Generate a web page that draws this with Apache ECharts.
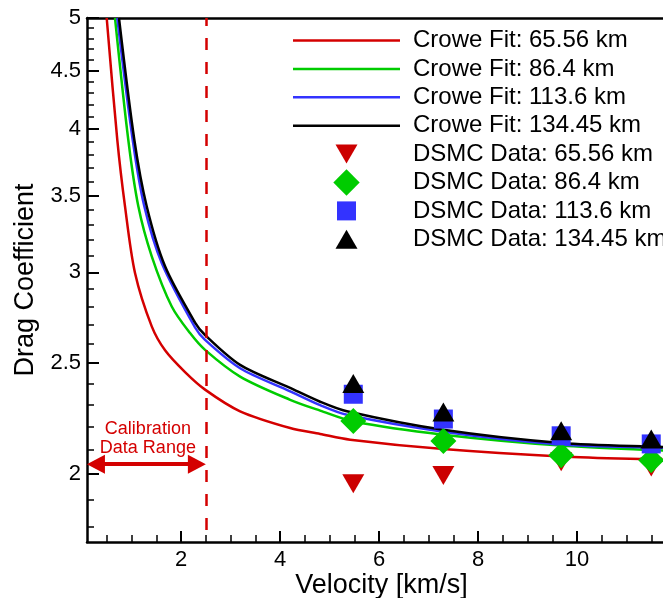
<!DOCTYPE html>
<html>
<head>
<meta charset="utf-8">
<script src="https://cdn.jsdelivr.net/npm/echarts@6/dist/echarts.min.js"></script>
<style>
html,body{margin:0;padding:0;background:#fff;}
#chart{width:663px;height:598px;}
</style>
</head>
<body>
<div id="chart"></div>
<script>
// ---- tick values ----
const xTicksMajor = [2, 4, 6, 8, 10];
const xTicksMinor = [0.5, 1, 1.5, 2.5, 3, 3.5, 4.5, 5, 5.5, 6.5, 7, 7.5, 8.5, 9, 9.5, 10.5, 11, 11.5];
const yTicksMajor = [2, 2.5, 3, 3.5, 4, 4.5, 5];
const yTicksMinor = [1.8, 1.9, 2.1, 2.2, 2.3, 2.4, 2.6, 2.7, 2.8, 2.9, 3.1, 3.2, 3.3, 3.4, 3.6, 3.7, 3.8, 3.9, 4.1, 4.2, 4.3, 4.4, 4.6, 4.7, 4.8, 4.9];

// ---- Crowe fit curves (velocity km/s, drag coefficient) ----
const fit6556V  = [0.498, 0.712, 0.868, 1.070, 1.408, 1.677, 2.081, 2.485, 3.193, 4.204, 4.810, 5.417, 7.297, 9.677, 11.745, 12.0];
const fit6556Cd = [5.0, 3.915, 3.425, 2.996, 2.691, 2.565, 2.455, 2.370, 2.269, 2.194, 2.168, 2.143, 2.103, 2.072, 2.058, 2.056];

const fit864V  = [0.666, 0.934, 1.137, 1.408, 1.812, 2.182, 2.485, 3.193, 4.204, 4.810, 5.484, 7.297, 9.677, 11.745, 12.0];
const fit864Cd = [5.0, 3.915, 3.425, 3.098, 2.801, 2.655, 2.567, 2.433, 2.322, 2.272, 2.223, 2.165, 2.118, 2.097, 2.095];

const fit1136V  = [0.712, 1.023, 1.258, 1.610, 2.283, 2.485, 3.193, 4.204, 4.810, 5.350, 7.297, 9.677, 11.745, 12.0];
const fit1136Cd = [5.0, 3.915, 3.425, 3.056, 2.685, 2.619, 2.474, 2.362, 2.297, 2.253, 2.178, 2.123, 2.109, 2.107];

const fit13445V  = [0.746, 1.056, 1.306, 1.677, 2.283, 2.485, 3.193, 4.204, 4.810, 5.350, 7.297, 9.677, 11.745, 12.0];
const fit13445Cd = [5.0, 3.915, 3.425, 3.036, 2.712, 2.645, 2.491, 2.378, 2.313, 2.269, 2.186, 2.129, 2.112, 2.110];

// ---- DSMC data ----
const dsmcV = [5.48, 7.30, 9.68, 11.50];
const dsmc6556Cd  = [1.962, 1.994, 2.050, 2.029];
const dsmc864Cd   = [2.225, 2.138, 2.077, 2.056];
const dsmc1136Cd  = [2.348, 2.234, 2.160, 2.125];
const dsmc13445Cd = [2.399, 2.266, 2.182, 2.146];

// ---- annotation ----
const calibLimit = 2.5;
const xMin = 0.1, xMax = 12;
const yMin = 1.745, yMax = 5;
const arrowCd = 2.04;
const arrowInset = 0.18;
const calibLabelPos = [1.33, 2.15];

const names = [
  'Crowe Fit: 65.56 km', 'Crowe Fit: 86.4 km', 'Crowe Fit: 113.6 km', 'Crowe Fit: 134.45 km',
  'DSMC Data: 65.56 km', 'DSMC Data: 86.4 km', 'DSMC Data: 113.6 km', 'DSMC Data: 134.45 km'
];

const RED = '#d40000', GREEN = '#00cc00', BLUE = '#3333ff', BLACK = '#000000';
const FONT = '"Liberation Sans", Arial, Helvetica, sans-serif';
// legend icons (drawn in a 27px-tall box so every row has the same height)
const LINE_ICON = 'path://M0,0M0,27M0,12.25L107,12.25L107,14.75L0,14.75Z';
const TRI_DOWN = 'path://M0,0L22,0L11,19Z';
const LEG_TRI_DOWN = 'path://M0,0M27,27M2.5,4L24.5,4L13.5,23Z';
const LEG_DIAMOND = 'path://M0,0M27,27M13.5,0.3L26.7,13.5L13.5,26.7L0.3,13.5Z';
const LEG_SQUARE = 'path://M0,0M27,27M4,4L23,4L23,23L4,23Z';
const LEG_TRI_UP = 'path://M0,0M27,27M13.5,4L24.5,23L2.5,23Z';
const legendIcons = [LINE_ICON, LINE_ICON, LINE_ICON, LINE_ICON, LEG_TRI_DOWN, LEG_DIAMOND, LEG_SQUARE, LEG_TRI_UP];

function zip(a, b) { return a.map((v, i) => [v, b[i]]); }
function fmt(v) { return String(Math.round(v * 100) / 100); }

const chart = echarts.init(document.getElementById('chart'), null, {renderer: 'canvas'});

function lineSeries(name, xs, ys, color, extra) {
  return Object.assign({
    name: name, type: 'line', data: zip(xs, ys),
    symbol: 'none', showSymbol: false, smooth: 0.3,
    lineStyle: {color: color, width: 2.5}, itemStyle: {color: color},
    clip: true, silent: true
  }, extra || {});
}
function scatterSeries(name, ys, color, symbol, size) {
  return {
    name: name, type: 'scatter', data: zip(dsmcV, ys),
    symbol: symbol, symbolSize: size,
    itemStyle: {color: color, opacity: 1}, z: 3
  };
}

const option = {
  animation: false,
  backgroundColor: '#fff',
  textStyle: {fontFamily: FONT},
  grid: {left: 87, top: 18, width: 589, height: 524, containLabel: false, outerBoundsMode: 'none'},
  xAxis: [
    {
      type: 'value', min: xMin, max: xMax, position: 'bottom',
      axisLine: {show: true, lineStyle: {color: '#000', width: 2.5}},
      axisTick: {show: true, inside: true, length: 11, customValues: xTicksMajor, lineStyle: {color: '#000', width: 2}},
      axisLabel: {show: true, customValues: xTicksMajor, fontSize: 22, color: '#000', margin: 7, fontFamily: FONT},
      splitLine: {show: false},
      name: 'Velocity [km/s]', nameLocation: 'middle', nameGap: 30, nameMoveOverlap: false,
      nameTextStyle: {fontSize: 27, color: '#000', fontFamily: FONT}
    },
    {
      type: 'value', min: xMin, max: xMax, position: 'bottom',
      axisLine: {show: false},
      axisTick: {show: true, inside: true, length: 7, customValues: xTicksMinor, lineStyle: {color: '#000', width: 1.5}},
      axisLabel: {show: false}, splitLine: {show: false}
    },
    {
      type: 'value', min: xMin, max: xMax, position: 'top',
      axisLine: {show: true, lineStyle: {color: '#000', width: 2.5}},
      axisTick: {show: false}, axisLabel: {show: false}, splitLine: {show: false}
    }
  ],
  yAxis: [
    {
      type: 'log', logBase: 10, min: yMin, max: yMax, position: 'left',
      axisLine: {show: true, lineStyle: {color: '#000', width: 2.5}},
      axisTick: {show: true, inside: true, length: 12, customValues: yTicksMajor, lineStyle: {color: '#000', width: 2}},
      axisLabel: {show: true, customValues: yTicksMajor, fontSize: 22, color: '#000', margin: 6, formatter: fmt, fontFamily: FONT},
      splitLine: {show: false}, minorTick: {show: false},
      name: 'Drag Coefficient', nameLocation: 'middle', nameGap: 48, nameMoveOverlap: false,
      nameTextStyle: {fontSize: 27, color: '#000', fontFamily: FONT}
    },
    {
      type: 'log', logBase: 10, min: yMin, max: yMax, position: 'left',
      axisLine: {show: false},
      axisTick: {show: true, inside: true, length: 7, customValues: yTicksMinor, lineStyle: {color: '#000', width: 1.5}},
      axisLabel: {show: false}, splitLine: {show: false}
    }
  ],
  legend: {
    orient: 'vertical', left: 288, top: 22,
    itemWidth: 107, itemHeight: 27, itemGap: 1.4,
    textStyle: {fontSize: 24, color: '#000', padding: [0, 0, 0, 8], lineHeight: 24, fontFamily: FONT},
    selectedMode: false,
    data: names.map((n, i) => ({name: n, icon: legendIcons[i]}))
  },
  series: [
    lineSeries(names[0], fit6556V, fit6556Cd, RED, {
      markLine: {
        silent: true, animation: false,
        symbol: ['none', 'none'],
        label: {show: false},
        emphasis: {disabled: true},
        data: [
          {
            xAxis: calibLimit,
            lineStyle: {color: RED, width: 2.5, type: [12, 12], dashOffset: 12}
          },
          [
            {coord: [xMin + arrowInset, arrowCd], symbol: 'triangle', symbolSize: [19, 18],
             lineStyle: {color: RED, width: 4, type: 'solid'}},
            {coord: [calibLimit - arrowInset, arrowCd], symbol: 'triangle', symbolSize: [19, 18]}
          ]
        ],
        lineStyle: {color: RED}
      },
      markPoint: {
        silent: true, animation: false,
        symbol: 'rect', symbolSize: 1, itemStyle: {color: 'rgba(0,0,0,0)'},
        data: [{coord: calibLabelPos, value: 0}],
        label: {
          show: true, position: 'inside', formatter: 'Calibration\nData Range',
          color: RED, fontSize: 18, lineHeight: 19, fontFamily: FONT, align: 'center'
        }
      }
    }),
    lineSeries(names[1], fit864V, fit864Cd, GREEN),
    lineSeries(names[2], fit1136V, fit1136Cd, BLUE),
    lineSeries(names[3], fit13445V, fit13445Cd, BLACK),
    scatterSeries(names[4], dsmc6556Cd, '#cc0000', TRI_DOWN, [22, 19]),
    scatterSeries(names[5], dsmc864Cd, GREEN, 'diamond', [26, 26]),
    scatterSeries(names[6], dsmc1136Cd, BLUE, 'rect', [19, 19]),
    scatterSeries(names[7], dsmc13445Cd, BLACK, 'triangle', [22, 19])
  ]
};
chart.setOption(option);
</script>
</body>
</html>
